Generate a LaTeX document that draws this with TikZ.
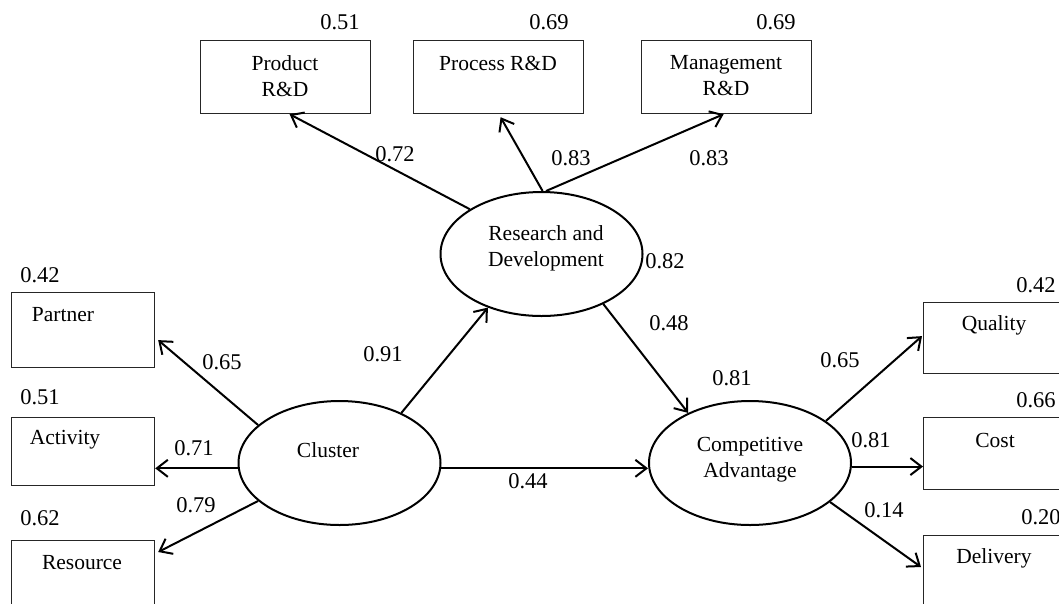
\documentclass[tikz,border=0pt]{standalone}
\usepackage{fontspec}
\setmainfont{Liberation Serif}
\usetikzlibrary{arrows.meta,calc,shapes.geometric}
\begin{document}
\begin{tikzpicture}[x=1pt,y=-1pt,
  box/.style={draw=black!85,line width=1.2pt,rectangle,inner sep=0pt,anchor=north west},
  latent/.style={draw,line width=2pt,ellipse,inner sep=0pt,minimum width=202pt,minimum height=124pt},
  txt/.style={inner sep=0pt,align=center,font=\fontsize{21.5}{26}\selectfont},
  num/.style={inner sep=0pt,font=\fontsize{22.5}{26}\selectfont},
  arr/.style={line width=2pt,-{Straight Barb[length=11pt,width=17pt,line width=2pt]}}]
\useasboundingbox (0,0) rectangle (1059,603);
% boxes
\node[box,minimum width=170pt,minimum height=73pt] (prod) at (200,40) {};
\node[box,minimum width=170pt,minimum height=73pt] (proc) at (413,40) {};
\node[box,minimum width=170pt,minimum height=73pt] (mgmt) at (641,40) {};
\node[box,minimum width=143pt,minimum height=75pt] (part) at (11,292) {};
\node[box,minimum width=143pt,minimum height=68pt] (act) at (11,417) {};
\node[box,minimum width=143pt,minimum height=75pt] (res) at (11,540) {};
\node[box,minimum width=143pt,minimum height=71pt] (qual) at (923,302) {};
\node[box,minimum width=143pt,minimum height=72pt] (cost) at (923,417) {};
\node[box,minimum width=143pt,minimum height=75pt] (deliv) at (923,535) {};
% box texts
\node[txt] (tprod) at (285,76) {Product\\R\&D};
\node[txt] (tproc) at (498,63) {Process R\&D};
\node[txt] (tmgmt) at (726,76) {Management\\R\&D};
\node[txt] (tpart) at (63,315) {Partner};
\node[txt] (tact) at (65,440) {Activity};
\node[txt] (tres) at (82,563) {Resource};
\node[txt] (tqual) at (994,325) {Quality};
\node[txt] (tcost) at (995,440) {Cost};
\node[txt] (tdeliv) at (994,558) {Delivery};
% latent variables
\node[latent] (rd) at (541.5,254) {};
\node[latent] (cl) at (339.5,463) {};
\node[latent] (ca) at (750,463) {};
\node[txt] (trd) at (546,248) {Research and\\Development};
\node[txt] (tcl) at (328,450) {Cluster};
\node[txt] (tca) at (750,460) {Competitive\\Advantage};
% arrows
\draw[arr] (rd.148) -- ($(prod.south)+(4,0)$);
\draw[arr] (rd.89) -- ($(proc.south)+(2,3)$);
\draw[arr] (rd.86) -- ($(mgmt.south)+(-3,0)$);
\draw[arr] (cl.155) -- ($(part.east)+(3,10)$);
\draw[arr] (cl.183) -- (cl.183 -| act.east);
\draw[arr] (cl.205) -- ($(res.north east)+(3,12)$);
\draw[arr] (cl.39) -- (rd.225);
\draw[arr] (cl.-3) -- (cl.-3 -| ca.west);
\draw[arr] (rd.-39) -- (ca.141);
\draw[arr] (ca.29) -- ($(qual.west)+(-1,-2)$);
\draw[arr] (ca.-2) -- (ca.-2 -| cost.west);
\draw[arr] (ca.-26) -- ($(deliv.north west)+(-2,32)$);
% numbers
\node[num] (n1) at (340,22) {0.51};
\node[num] (n2) at (549,22) {0.69};
\node[num] (n3) at (776,22) {0.69};
\node[num] (n4) at (40,275) {0.42};
\node[num] (n5) at (40,397) {0.51};
\node[num] (n6) at (40,518) {0.62};
\node[num] (n7) at (1036,285) {0.42};
\node[num] (n8) at (1036,400) {0.66};
\node[num] (n9) at (1041,517) {0.20};
\node[num] (e1) at (395,154) {0.72};
\node[num] (e2) at (571,158) {0.83};
\node[num] (e3) at (709,158) {0.83};
\node[num] (e4) at (665,261) {0.82};
\node[num] (e5) at (669,323) {0.48};
\node[num] (e6) at (732,378) {0.81};
\node[num] (e7) at (383,354) {0.91};
\node[num] (e8) at (528,481) {0.44};
\node[num] (e9) at (222,362) {0.65};
\node[num] (e10) at (194,448) {0.71};
\node[num] (e11) at (196,505) {0.79};
\node[num] (e12) at (840,360) {0.65};
\node[num] (e13) at (871,440) {0.81};
\node[num] (e14) at (884,510) {0.14};
\end{tikzpicture}
\end{document}
